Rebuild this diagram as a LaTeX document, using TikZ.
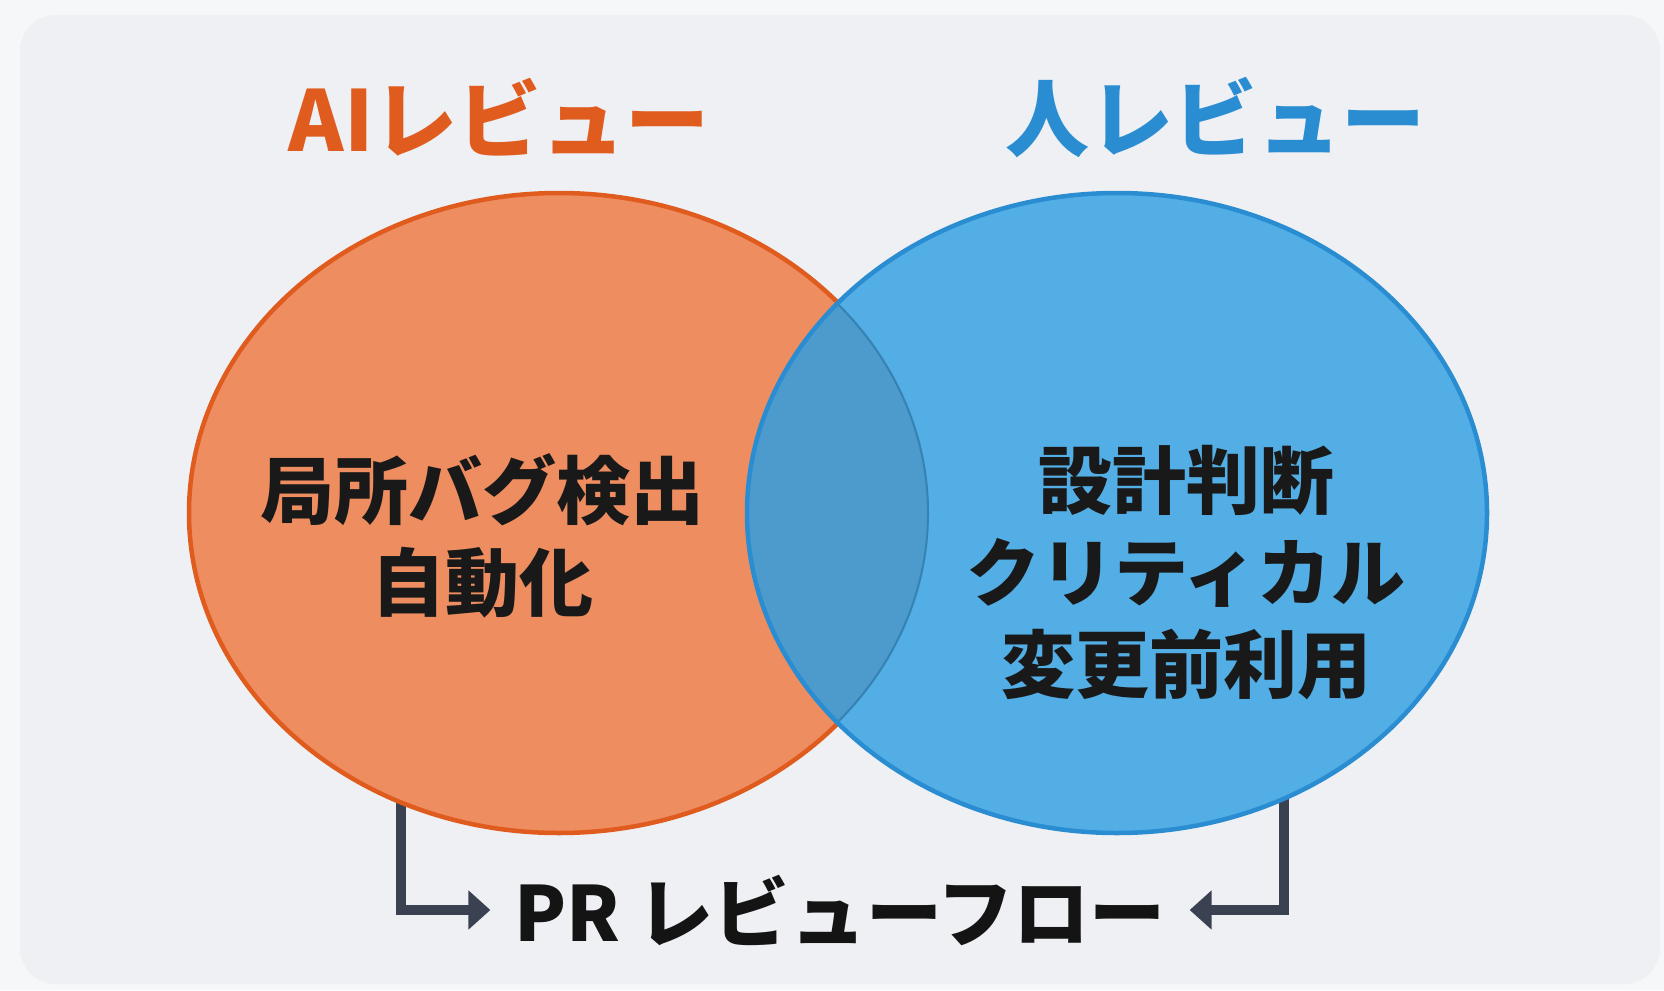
\documentclass[tikz,border=0pt]{standalone}
\usepackage{fontspec}
\setmainfont{Noto Sans CJK JP}
\usetikzlibrary{arrows.meta}
\usetikzlibrary{shapes.geometric}

\definecolor{pageback}{HTML}{F6F7F9}
\definecolor{panelback}{HTML}{EEF0F4}
\definecolor{aiorange}{HTML}{E05B1E}
\definecolor{aifill}{HTML}{EE8D60}
\definecolor{hublue}{HTML}{2A8DD2}
\definecolor{hufill}{HTML}{52AEE5}
\definecolor{bothfill}{HTML}{4C9BCC}
\definecolor{flowgray}{HTML}{3A4252}

\tikzset{
  venn/.style={ellipse, minimum width=740pt, minimum height=640pt, inner sep=0pt, line width=4.5pt},
  title/.style={font=\fontsize{84}{90}\selectfont\bfseries},
  body/.style={font=\fontsize{74}{92}\selectfont\bfseries, text=black!90, align=center},
  flowarrow/.style={color=flowgray, line width=10pt, line join=miter, -{Triangle[length=22pt,width=38pt]}}
}

\begin{document}
\begin{tikzpicture}[x=1pt, y=-1pt]
\fill[pageback] (0,0) rectangle (1664,990);
\useasboundingbox (0,0) rectangle (1664,990);
\fill[panelback, rounded corners=36pt] (20,15) rectangle (1660,984);

% flow below the sets
\node[font=\fontsize{76}{80}\selectfont\bfseries, text=black!92, inner sep=0pt] (flow) at (840,910) {PR レビューフロー};
\coordinate (aifoot) at (401,780);
\coordinate (hufoot) at (1284,780);
\draw[flowarrow] (aifoot) |- ([xshift=-24pt]flow.west);
\draw[flowarrow] (hufoot) |- ([xshift=24pt]flow.east);

% the two sets
\node[venn, fill=aifill, draw=aiorange] (ai) at (559,513) {};
\node[venn, fill=hufill] (hu) at (1117,513) {};

\begin{scope}
  \clip (559,513) ellipse [x radius=370pt, y radius=320pt];
  \fill[bothfill] (1117,513) ellipse [x radius=370pt, y radius=320pt];
\end{scope}
\begin{scope}
  \clip (1117,513) ellipse [x radius=368pt, y radius=318pt];
  \draw[hublue!75!black, opacity=.5, line width=2pt] (559,513) ellipse [x radius=369pt, y radius=319pt];
\end{scope}
\draw[hublue, line width=4.5pt] (1117,513) ellipse [x radius=370pt, y radius=320pt];

% titles
\node[title, text=aiorange] (aititle) at (499,117) {AIレビュー};
\node[title, text=hublue] (hutitle) at (1215,117) {人レビュー};

% contents
\node[body] (aitext) at (482,536) {局所バグ検出\\自動化};
\node[body] (hutext) at (1186,573) {設計判断\\クリティカル\\変更前利用};

\end{tikzpicture}
\end{document}
